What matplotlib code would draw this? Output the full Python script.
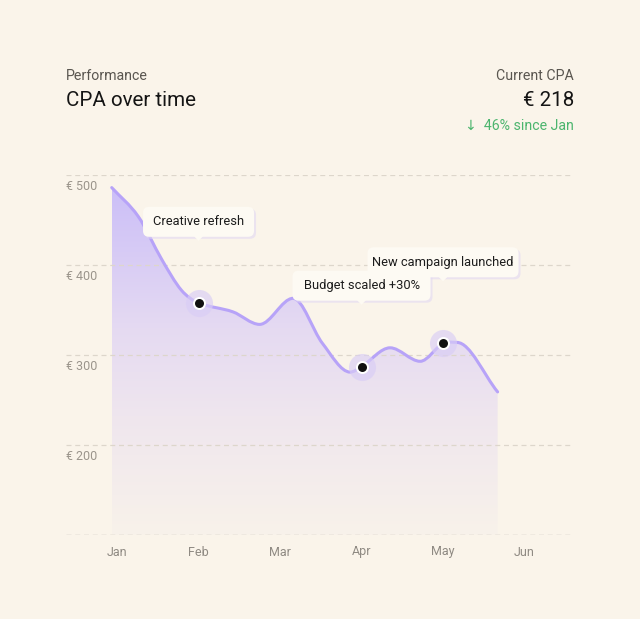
import numpy as np
import matplotlib
matplotlib.use("Agg")
import matplotlib.pyplot as plt
from matplotlib.path import Path
from matplotlib.patches import PathPatch, FancyBboxPatch, Polygon
from matplotlib.transforms import ScaledTranslation
from matplotlib.colors import LinearSegmentedColormap

plt.rcParams['font.family'] = ['Roboto', 'DejaVu Sans']

BG = '#faf4ea'
LINE = '#b7a3f8'

months = ['Jan', 'Feb', 'Mar', 'Apr', 'May', 'Jun']
y_ticks = [500, 400, 300, 200]
baseline = 100

# CPA curve (x = months since Jan)
cpa_x = [-0.065, 0.26, 0.55, 0.79, 1.0, 1.42, 1.75, 2.16, 2.52, 2.86,
         3.0, 3.35, 3.72, 4.0, 4.17, 4.67]
cpa_y = [486, 454, 406, 372, 358, 348, 334, 363, 313, 281,
         287, 308, 293, 313, 314, 259]

events = ['Creative refresh', 'Budget scaled +30%', 'New campaign launched']
event_x = [1.0, 3.0, 4.0]
event_y = [358, 287, 313]
event_box_w = [111, 138, 151]


def smooth_path(xs, ys):
    # cubic through the read points (flat at turning points), as bezier segments
    x = np.asarray(xs, float)
    y = np.asarray(ys, float)
    h = np.diff(x)
    d = np.diff(y) / h
    m = np.zeros_like(y)
    m[0], m[-1] = d[0], d[-1]
    for i in range(1, len(x) - 1):
        if d[i - 1] * d[i] > 0:
            m[i] = (y[i + 1] - y[i - 1]) / (x[i + 1] - x[i - 1])
    verts = [(x[0], y[0])]
    codes = [Path.MOVETO]
    for i in range(len(x) - 1):
        verts += [(x[i] + h[i] / 3, y[i] + m[i] * h[i] / 3),
                  (x[i + 1] - h[i] / 3, y[i + 1] - m[i + 1] * h[i] / 3),
                  (x[i + 1], y[i + 1])]
        codes += [Path.CURVE4] * 3
    return verts, codes


fig = plt.figure(figsize=(6.4, 6.19), dpi=100, facecolor=BG)
ax = fig.add_axes([66 / 640, 84 / 619, 508 / 640, 360 / 619])
ax.axis('off')

# grid (drawn over the faded area, as in the reference)
for v in y_ticks:
    ax.axhline(v, color='#ddd6cb', lw=0.9, dashes=(4, 3), zorder=2.5)
    ax.annotate(f'€ {v}', xy=(0, v), xycoords=('axes fraction', 'data'),
                xytext=(0, -12), textcoords='offset pixels', ha='left', va='center',
                fontsize=9, color='#9b958c')
ax.axhline(baseline, color='#aaa49b', lw=0.9, dashes=(4, 3), zorder=2.5)

for i, mo in enumerate(months):
    ax.annotate(mo, xy=(i, baseline), xytext=(0, -17), textcoords='offset pixels',
                ha='center', va='center', fontsize=9, color='#8f8a83')

# area with gradient
verts, codes = smooth_path(cpa_x, cpa_y)
fill_verts = verts + [(cpa_x[-1], baseline), (cpa_x[0], baseline), verts[0]]
fill_codes = codes + [Path.LINETO, Path.LINETO, Path.CLOSEPOLY]
fill_patch = PathPatch(Path(fill_verts, fill_codes), facecolor='none', edgecolor='none')
ax.add_patch(fill_patch)
cmap = LinearSegmentedColormap.from_list(
    'fade', [(0, '#f8f2ea'), (0.33, '#efe6ee'), (0.575, '#e5daf2'), (1, '#c9bcf8')])
grad = np.linspace(0, 1, 256).reshape(-1, 1)
im = ax.imshow(grad, extent=[cpa_x[0], cpa_x[-1], baseline, 500], origin='lower',
               aspect='auto', cmap=cmap, zorder=2)
im.set_clip_path(fill_patch)

ax.add_patch(PathPatch(Path(verts, codes), facecolor='none', edgecolor=LINE,
                       lw=2.2, capstyle='round', zorder=3))
ax.set_xlim(-0.626, 5.607)
ax.set_ylim(baseline, 500)

# markers
ax.scatter(event_x, event_y, s=380, color='#d9cdf6', alpha=0.65, lw=0, zorder=4)
ax.scatter(event_x, event_y, s=88, color='white', lw=0, zorder=5)
ax.scatter(event_x, event_y, s=42, color='#111111', lw=0, zorder=6)

# tooltips, sized in pixels above each marker
for label, ex, ey, w in zip(events, event_x, event_y, event_box_w):
    tr = ScaledTranslation(ex, ey, ax.transData)
    y0, h = 66, 30
    shadow = FancyBboxPatch((-w / 2 + 2, y0 - 2), w, h, boxstyle='round,pad=0,rounding_size=6',
                            transform=tr, facecolor='#e2d8f3', edgecolor='none', alpha=0.6,
                            clip_on=False, zorder=7)
    box = FancyBboxPatch((-w / 2, y0), w, h, boxstyle='round,pad=0,rounding_size=6',
                         transform=tr, facecolor='#fdfaf3', edgecolor='none',
                         clip_on=False, zorder=8)
    tip = Polygon([(-5, y0 + 1), (5, y0 + 1), (0, y0 - 4)], closed=True, transform=tr,
                  facecolor='#fdfaf3', edgecolor='none', clip_on=False, zorder=8)
    for a in (shadow, box, tip):
        ax.add_artist(a)
    ax.text(0, y0 + h / 2, label, transform=tr, ha='center', va='center',
            fontsize=9.3, color='#1c1c1c', zorder=9)

# header
def px(x, y):
    return x / 640, 1 - y / 619

fig.text(*px(66, 76), 'Performance', fontsize=10.2, color='#5a5650', va='center')
fig.text(*px(66, 100), 'CPA over time', fontsize=14.8, color='#141414', va='center')
fig.text(*px(574, 76), 'Current CPA', fontsize=10.2, color='#5a5650', va='center', ha='right')
fig.text(*px(574, 100), '€ 218', fontsize=14.8, color='#141414', va='center', ha='right')
fig.text(*px(574, 126), '↓  46% since Jan', fontsize=10.2, color='#4cb56e', va='center', ha='right')

fig.savefig('out.png', dpi=100, facecolor=BG)
